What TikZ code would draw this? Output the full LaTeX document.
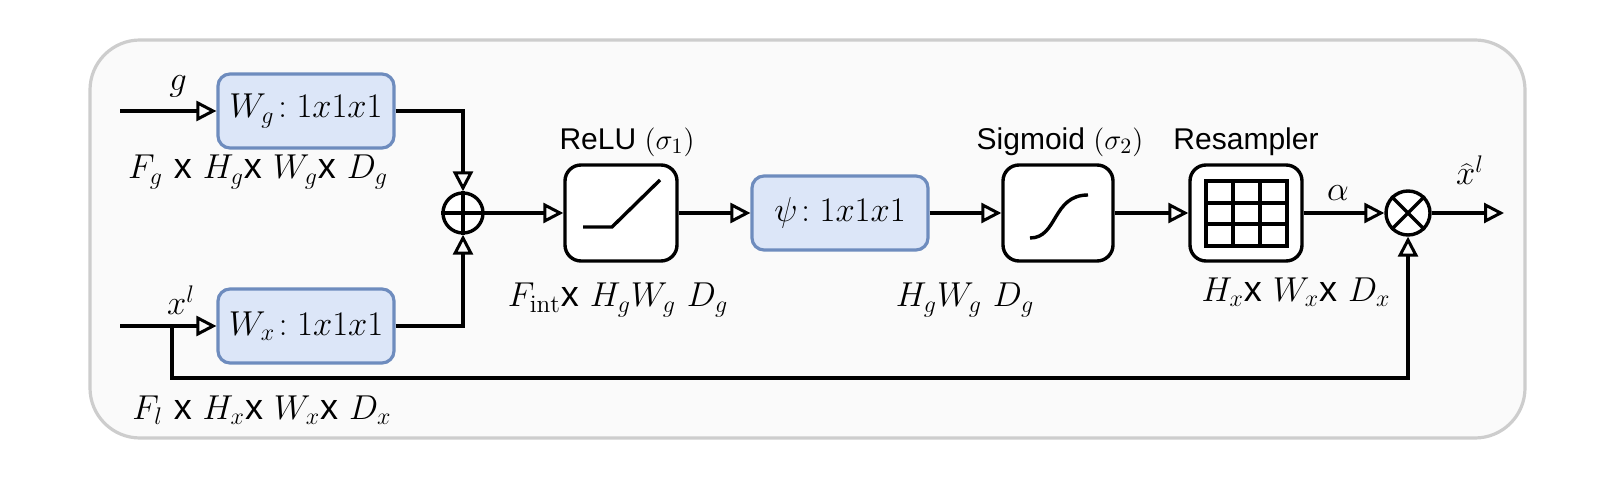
\documentclass[tikz,border=0pt]{standalone}
\usepackage{fontspec}
\setsansfont{Liberation Sans}
\usetikzlibrary{arrows.meta}
\definecolor{bfill}{RGB}{220,230,248}
\definecolor{bdraw}{RGB}{110,140,190}
\definecolor{frm}{RGB}{205,205,205}
\begin{document}
\begin{tikzpicture}[x=0.5pt,y=-0.5pt,
  line width=1.7pt,
  arr/.style={-{Triangle[open,length=10pt,width=10pt,line width=1.5pt]}},
  blue box/.style={draw=bdraw, line width=1.6pt, fill=bfill, rounded corners=6pt},
  black box/.style={draw, line width=1.7pt, fill=white, rounded corners=8pt},
  lbl/.style={font=\fontsize{18}{20}\selectfont},
  slbl/.style={font=\sffamily\fontsize{15}{17}\selectfont}]
\useasboundingbox (0,0) rectangle (1622,480);
\node[draw=frm, line width=1.6pt, fill=gray!4, rounded corners=25pt, minimum width=717.5pt, minimum height=199pt, inner sep=0pt] (frame) at (807.5,239) {};
% boxes
\node[blue box, minimum width=88pt, minimum height=37pt] (wg) at (306,111) {};
\node[lbl] at (wg) {$W_g\!:1x1x1$};
\node[blue box, minimum width=88pt, minimum height=37pt] (wx) at (306,326) {};
\node[lbl] at (wx) {$W_x\!:1x1x1$};
\node[draw, circle, minimum size=20pt, inner sep=0pt, fill=white] (sum) at (463,213) {};
\draw (sum.north) -- (sum.south) (sum.west) -- (sum.east);
\node[black box, minimum width=56pt, minimum height=48pt] (relu) at (621,213) {};
\draw (583,227) -- (612,227) -- (660,180);
\node[blue box, minimum width=88pt, minimum height=37pt] (psi) at (840,213) {};
\node[lbl] at (psi) {$\psi\!:1x1x1$};
\node[black box, minimum width=55pt, minimum height=48pt] (sig) at (1058,213) {};
\draw (1030,238) .. controls (1058,238) and (1052,195) .. (1088,195);
\node[black box, minimum width=56pt, minimum height=48pt] (res) at (1246,213) {};
\draw[line width=2.4pt] (1206,181) rectangle (1287,246);
\draw (1233,181) -- (1233,246) (1260,181) -- (1260,246) (1206,203) -- (1287,203) (1206,224) -- (1287,224);
\node[draw, circle, minimum size=22pt, inner sep=0pt, fill=white] (mul) at (1408,213) {};
\draw (mul.north west) -- (mul.south east) (mul.north east) -- (mul.south west);
% coordinates
\coordinate (gin) at (120,111);
\coordinate (xin) at (120,326);
\coordinate (out) at (1504,213);
\coordinate (fb) at (172,326);
% connectors
\draw[arr] (gin) -- (wg);
\draw[arr] (xin) -- (wx);
\draw[arr] (wg.east) -| (sum.north);
\draw[arr] (wx.east) -| (sum.south);
\draw[arr] (sum) -- (relu);
\draw[arr] (relu) -- (psi);
\draw[arr] (psi) -- (sig);
\draw[arr] (sig) -- (res);
\draw[arr] (res) -- (mul);
\draw[arr] (mul) -- (out);
\draw[arr] (fb) -- (172,378) -| (mul.south);
% labels
\node[lbl] at (178,86) {$g$};
\node[lbl] at (181,300) {$x^l$};
\node[lbl] at (258,172) {$F_g$ \textsf{x} $H_g$\textsf{x} $W_g$\textsf{x} $D_g$};
\node[lbl] at (262,410) {$F_l$ \textsf{x} $H_x$\textsf{x} $W_x$\textsf{x} $D_x$};
\node[slbl] at (627,142) {ReLU $(\sigma_1)$};
\node[lbl] at (618,300) {$F_{\mathrm{int}}$\textsf{x} $H_gW_g\ D_g$};
\node[slbl] at (1060,142) {Sigmoid $(\sigma_2)$};
\node[lbl] at (965,300) {$H_gW_g\ D_g$};
\node[slbl] at (1246,142) {Resampler};
\node[lbl] at (1296,292) {$H_x$\textsf{x} $W_x$\textsf{x} $D_x$};
\node[lbl] at (1338,193) {$\alpha$};
\node[lbl] at (1470,170) {$\widehat{x}^l$};
\end{tikzpicture}
\end{document}
